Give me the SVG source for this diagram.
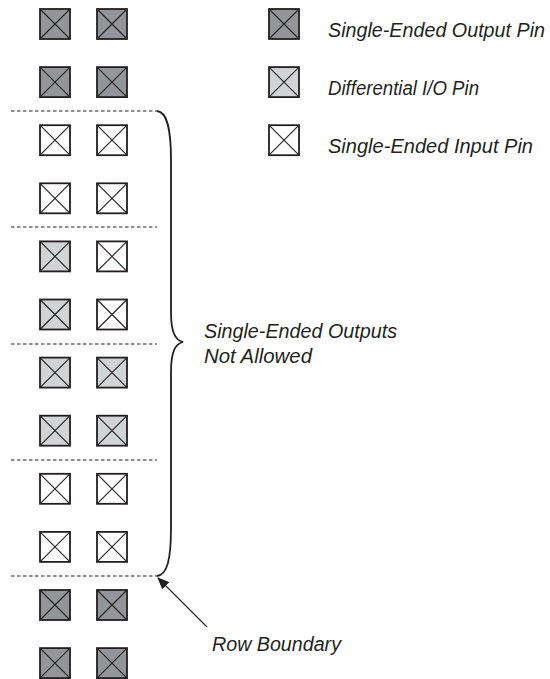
<svg xmlns="http://www.w3.org/2000/svg" xmlns:xlink="http://www.w3.org/1999/xlink" width="550" height="679" viewBox="0 0 550 679">
<style>
.pin{stroke:#231f20;stroke-width:1.8}
.x{stroke:#231f20;stroke-width:1.1;fill:none}
.dk{fill:#939598}
.lt{fill:#d1d3d4}
.wh{fill:#ffffff}
.dash{stroke:#231f20;stroke-width:1.2;stroke-dasharray:3.5 2.5;fill:none}
.brace{stroke:#231f20;stroke-width:1.8;fill:none}
.arrow{stroke:#231f20;stroke-width:1.1;fill:none}
text{font-family:"Liberation Sans",Arial,sans-serif;font-style:italic;font-size:19.5px;fill:#231f20}
</style>
<defs>
<g id="cross"><path class="x" d="M0,0 L30,30 M30,0 L0,30"/></g>
<marker id="ah" markerWidth="12" markerHeight="10" refX="11" refY="5" orient="auto" markerUnits="userSpaceOnUse">
<path d="M0,0 L12,5 L0,10 Z" fill="#231f20"/>
</marker>
</defs>
<rect width="550" height="679" fill="#ffffff"/>

<g id="pins">
<g id="r0"><g id="p0a" transform="translate(40,9)"><rect class="pin dk" width="30" height="30"/><use href="#cross"/></g><g id="p0b" transform="translate(97,9)"><rect class="pin dk" width="30" height="30"/><use href="#cross"/></g></g>
<g id="r1"><g id="p1a" transform="translate(40,67.1)"><rect class="pin dk" width="30" height="30"/><use href="#cross"/></g><g id="p1b" transform="translate(97,67.1)"><rect class="pin dk" width="30" height="30"/><use href="#cross"/></g></g>
<g id="r2"><g id="p2a" transform="translate(40,125.2)"><rect class="pin wh" width="30" height="30"/><use href="#cross"/></g><g id="p2b" transform="translate(97,125.2)"><rect class="pin wh" width="30" height="30"/><use href="#cross"/></g></g>
<g id="r3"><g id="p3a" transform="translate(40,183.3)"><rect class="pin wh" width="30" height="30"/><use href="#cross"/></g><g id="p3b" transform="translate(97,183.3)"><rect class="pin wh" width="30" height="30"/><use href="#cross"/></g></g>
<g id="r4"><g id="p4a" transform="translate(40,241.4)"><rect class="pin lt" width="30" height="30"/><use href="#cross"/></g><g id="p4b" transform="translate(97,241.4)"><rect class="pin wh" width="30" height="30"/><use href="#cross"/></g></g>
<g id="r5"><g id="p5a" transform="translate(40,299.5)"><rect class="pin lt" width="30" height="30"/><use href="#cross"/></g><g id="p5b" transform="translate(97,299.5)"><rect class="pin wh" width="30" height="30"/><use href="#cross"/></g></g>
<g id="r6"><g id="p6a" transform="translate(40,357.6)"><rect class="pin lt" width="30" height="30"/><use href="#cross"/></g><g id="p6b" transform="translate(97,357.6)"><rect class="pin lt" width="30" height="30"/><use href="#cross"/></g></g>
<g id="r7"><g id="p7a" transform="translate(40,415.7)"><rect class="pin lt" width="30" height="30"/><use href="#cross"/></g><g id="p7b" transform="translate(97,415.7)"><rect class="pin lt" width="30" height="30"/><use href="#cross"/></g></g>
<g id="r8"><g id="p8a" transform="translate(40,473.8)"><rect class="pin wh" width="30" height="30"/><use href="#cross"/></g><g id="p8b" transform="translate(97,473.8)"><rect class="pin wh" width="30" height="30"/><use href="#cross"/></g></g>
<g id="r9"><g id="p9a" transform="translate(40,531.9)"><rect class="pin wh" width="30" height="30"/><use href="#cross"/></g><g id="p9b" transform="translate(97,531.9)"><rect class="pin wh" width="30" height="30"/><use href="#cross"/></g></g>
<g id="r10"><g id="p10a" transform="translate(40,590)"><rect class="pin dk" width="30" height="30"/><use href="#cross"/></g><g id="p10b" transform="translate(97,590)"><rect class="pin dk" width="30" height="30"/><use href="#cross"/></g></g>
<g id="r11"><g id="p11a" transform="translate(40,648.1)"><rect class="pin dk" width="30" height="30"/><use href="#cross"/></g><g id="p11b" transform="translate(97,648.1)"><rect class="pin dk" width="30" height="30"/><use href="#cross"/></g></g>
</g>

<g id="row-boundaries">
<path class="dash" d="M11,111 H157"/>
<path class="dash" d="M11,227 H157"/>
<path class="dash" d="M11,344 H157"/>
<path class="dash" d="M11,460 H157"/>
<path class="dash" d="M11,576 H157"/>
</g>

<g id="legend">
<g id="leg-out" transform="translate(269,9)"><rect class="pin dk" width="30" height="30"/><use href="#cross"/><text x="59" y="28" textLength="217" lengthAdjust="spacingAndGlyphs">Single-Ended Output Pin</text></g>
<g id="leg-diff" transform="translate(269,67.1)"><rect class="pin lt" width="30" height="30"/><use href="#cross"/><text x="59" y="28" textLength="151" lengthAdjust="spacingAndGlyphs">Differential I/O Pin</text></g>
<g id="leg-in" transform="translate(269,125.2)"><rect class="pin wh" width="30" height="30"/><use href="#cross"/><text x="59" y="28" textLength="205" lengthAdjust="spacingAndGlyphs">Single-Ended Input Pin</text></g>
</g>

<g id="connectors">
<path id="brace" class="brace" d="M157,111 C167,112 171,128 171,160 L171,312 C171,332 175,340 183,342 C175,344 171,352 171,372 L171,528 C171,560 167,575 157,576"/>
<path id="arrow" class="arrow" d="M207,627 L158,578" marker-end="url(#ah)"/>
</g>

<g id="labels">
<text x="204" y="338" textLength="193" lengthAdjust="spacingAndGlyphs">Single-Ended Outputs</text>
<text x="204" y="363" textLength="108" lengthAdjust="spacingAndGlyphs">Not Allowed</text>
<text x="212" y="651" textLength="129" lengthAdjust="spacingAndGlyphs">Row Boundary</text>
</g>
</svg>
